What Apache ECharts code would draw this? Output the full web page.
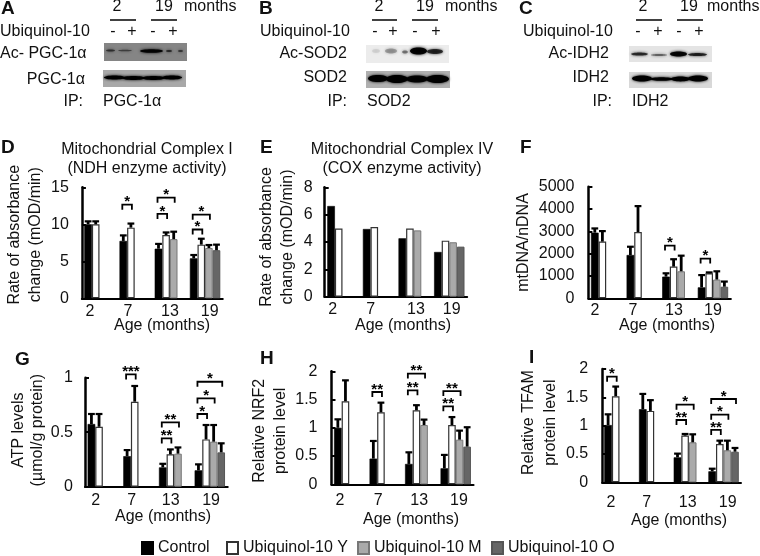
<!DOCTYPE html>
<html><head><meta charset="utf-8">
<style>html,body{margin:0;padding:0;background:#fff}#c{width:760px;height:556px}</style>
<script src="https://cdn.jsdelivr.net/npm/echarts@6/dist/echarts.min.js"></script>
</head><body><div id="c"></div>
<script>
const ages = ['2', '7', '13', '19'];
const groupNames = ['Control', 'Ubiquinol-10 Y', 'Ubiquinol-10 M', 'Ubiquinol-10 O'];

// D: Complex I
const dValues = [[10, 7.75, 6.7, 5.4], [10, 9.55, 8.55, 7.25], [null, null, 8, 6.8], [null, null, null, 6.5]];
const dTops = [[10.4, 8.5, 7.35, 5.85], [10.4, 10.1, 8.9, 8.05], [null, null, 9, 7.2], [null, null, null, 7.25]];
const dSig = [[1, 0, 1, 12.65, '*'], [2, 0, 1, 11.4, '*'], [2, 0, 2, 13.6, '*'], [3, 0, 1, 9.3, '*'], [3, 0, 2, 11.3, '*']];
// E: Complex IV
const eValues = [[6.63, 4.95, 4.27, 3.27], [4.98, 5.1, 4.98, 4.1], [null, null, 4.85, 3.98], [null, null, null, 3.66]];
const eTops = [[null, null, null, null], [null, null, null, null], [null, null, null, null], [null, null, null, null]];
const eSig = [];
// F: mtDNA/nDNA
const fValues = [[2940, 1940, 970, 490], [2540, 2970, 1420, 1120], [null, null, 1210, 840], [null, null, null, 520]];
const fTops = [[3130, 2310, 1120, 1040], [3010, 4130, 1750, 1160], [null, null, 1910, 1210], [null, null, null, 750]];
const fSig = [[2, 0, 1, 2360, '*'], [3, 0, 1, 1780, '*']];
// G: ATP
const gValues = [[0.575, 0.28, 0.177, 0.15], [0.55, 0.78, 0.297, 0.434], [null, null, 0.303, 0.413], [null, null, null, 0.315]];
const gTops = [[0.667, 0.336, 0.21, 0.205], [0.667, 0.924, 0.342, 0.566], [null, null, 0.36, 0.566], [null, null, null, 0.398]];
const gSig = [[1, 0, 1, 1.03, '***'], [2, 0, 1, 0.443, '**'], [2, 0, 2, 0.59, '**'], [3, 0, 1, 0.667, '*'], [3, 0, 2, 0.81, '*'], [3, 0, 3, 0.963, '*']];
// H: NRF2
const hValues = [[1, 0.454, 0.36, 0.283], [1.47, 1.274, 1.31, 1.05], [null, null, 1.05, 0.79], [null, null, null, 0.667]];
const hTops = [[1.15, 0.767, 0.566, 0.52], [1.84, 1.445, 1.4, 1.19], [null, null, 1.145, 0.95], [null, null, null, 1.01]];
const hSig = [[1, 0, 1, 1.634, '**'], [2, 0, 1, 1.664, '**'], [2, 0, 2, 1.96, '**'], [3, 0, 1, 1.38, '**'], [3, 0, 2, 1.65, '**']];
// I: TFAM
const iValues = [[1.01, 1.29, 0.44, 0.194], [1.52, 1.26, 0.824, 0.676], [null, null, 0.706, 0.565], [null, null, null, 0.54]];
const iTops = [[1.2, 1.56, 0.506, 0.24], [1.69, 1.45, 0.853, 0.735], [null, null, 0.847, 0.735], [null, null, null, 0.606]];
const iSig = [[0, 0, 1, 1.865, '*'], [2, 0, 1, 1.1, '**'], [2, 0, 2, 1.37, '*'], [3, 0, 1, 0.924, '**'], [3, 0, 2, 1.194, '*'], [3, 0, 3, 1.47, '*']];

const FONT = '"Liberation Sans", Arial, sans-serif';
const INK = '#111';
const BW = 7.6;
const styles = [
  {color: '#000', borderColor: '#000', borderWidth: 0.6},
  {color: '#fff', borderColor: '#333', borderWidth: 1.2},
  {color: '#aaa', borderColor: '#777', borderWidth: 1},
  {color: '#666', borderColor: '#555', borderWidth: 1}
];

const panels = [
  {v: dValues, t: dTops, s: dSig, left: 81.9, step: 35.2, top: 187.3, zero: 298.3, max: 15, interval: 5,
   name: 'Rate of absorbance\nchange (mOD/min)', nameGap: 36, nameShift: 8, lh: 21, ageX: 162, ageY: 326, labMargin: 5, yMargin: 13, dx: [-9.5, -6.7, 0, 4.6]},
  {v: eValues, t: eTops, s: eSig, left: 324.7, step: 35.6, top: 187.3, zero: 296.7, max: 8, interval: 2,
   name: 'Rate of absorbance\nchange (mOD/min)', nameGap: 27, nameShift: 5, lh: 21, ageX: 403, ageY: 326, labMargin: 5, yMargin: 12, dx: [-9.8, -7.4, 2.3, 2.4]},
  {v: fValues, t: fTops, s: fSig, left: 588.4, step: 35.6, top: 186.7, zero: 298.3, max: 5000, interval: 1000,
   name: 'mtDNA/nDNA', nameGap: 54, nameShift: 0, lh: 21, ageX: 667, ageY: 326, labMargin: 4, yMargin: 14, dx: [-11.2, -8.8, -3.4, 0]},
  {v: gValues, t: gTops, s: gSig, left: 85, step: 35.67, top: 377.7, zero: 486.7, max: 1, interval: 0.5,
   name: 'ATP levels\n(µmol/g protein)', nameGap: 35, nameShift: 2, lh: 19, ageX: 163, ageY: 517, labMargin: 6, yMargin: 12, dx: [-7.1, -6.8, -3.5, 1.2]},
  {v: hValues, t: hTops, s: hSig, left: 331.5, step: 35.5, top: 371.3, zero: 484.3, max: 2, interval: 0.5,
   name: 'Relative NRF2\nprotein level', nameGap: 29, nameShift: -3, lh: 21, ageX: 411, ageY: 520, labMargin: 8, yMargin: 14, dx: [-9.25, -6.45, -1, 3.25]},
  {v: iValues, t: iTops, s: iSig, left: 602.15, step: 34.7, top: 369, zero: 482.3, max: 2, interval: 0.5,
   name: 'Relative TFAM\nprotein level', nameGap: 39, nameShift: 3, lh: 22, ageX: 679, ageY: 521, labMargin: 12, yMargin: 14, dx: [-8.5, -7.5, -1.2, 4.1]}
];

const grid = [], xAxis = [], yAxis = [], series = [];
panels.forEach((p, pi) => {
  grid.push({left: p.left, top: p.top, width: p.step * 4, height: p.zero - p.top, containLabel: false});
  const rich = {};
  p.dx.forEach((d, i) => {
    rich['c' + i] = {fontFamily: FONT, fontSize: 16, color: INK,
      padding: d < 0 ? [0, -2 * d, 0, 0] : [0, 0, 0, 2 * d]};
  });
  xAxis.push({type: 'category', gridIndex: pi, data: ages,
    axisLine: {lineStyle: {color: '#000', width: 2.2}}, axisTick: {show: false},
    axisLabel: {margin: p.labMargin, interval: 0, formatter: (v, i) => `{c${i}|${v}}`, rich}});
  yAxis.push({type: 'value', gridIndex: pi, min: 0, max: p.max, interval: p.interval,
    splitLine: {show: false},
    axisLine: {show: true, lineStyle: {color: '#000', width: 2.5}},
    axisTick: {show: true, inside: true, length: 4, lineStyle: {color: '#000', width: 2}},
    axisLabel: {margin: p.yMargin, fontFamily: FONT, fontSize: 16, color: INK, formatter: v => String(v)},
    name: p.name, nameLocation: 'middle', nameGap: p.nameGap, nameRotate: 90,
    nameTextStyle: {fontFamily: FONT, fontSize: 16, color: INK, lineHeight: p.lh,
      padding: p.nameShift > 0 ? [0, 0, 0, 2 * p.nameShift] : [0, -2 * p.nameShift, 0, 0]}});
  groupNames.forEach((name, gi) => {
    series.push({type: 'bar', name, xAxisIndex: pi, yAxisIndex: pi, barWidth: BW, barGap: 0,
      data: p.v[gi], itemStyle: styles[gi], z: 2});
  });
  // error bars, one-sided
  const errRows = [];
  p.t.forEach((tops, gi) => tops.forEach((top, c) => {
    if (top != null) errRows.push([c, gi, p.v[gi][c], top]);
  }));
  series.push({type: 'custom', xAxisIndex: pi, yAxisIndex: pi, z: 3, silent: true, clip: false,
    encode: {x: 0, y: [2, 3]}, data: errRows,
    renderItem: (params, api) => {
      const off = (api.value(1) - 1.5) * BW;
      const a = api.coord([api.value(0), api.value(2)]);
      const b = api.coord([api.value(0), api.value(3)]);
      const x = a[0] + off;
      return {type: 'group', children: [
        {type: 'line', shape: {x1: x, y1: a[1], x2: x, y2: b[1]}, style: {stroke: '#000', lineWidth: 2.8}},
        {type: 'line', shape: {x1: x - 3.4, y1: b[1], x2: x + 3.4, y2: b[1]}, style: {stroke: '#000', lineWidth: 2.2}}
      ]};
    }});
  // significance brackets
  series.push({type: 'custom', xAxisIndex: pi, yAxisIndex: pi, z: 4, silent: true, clip: false,
    encode: {x: 0, y: 3}, data: p.s.map(r => r.slice(0, 4)),
    renderItem: (params, api) => {
      const c = api.coord([api.value(0), api.value(3)]);
      const x1 = c[0] + (api.value(1) - 1.5) * BW - 1;
      const x2 = c[0] + (api.value(2) - 1.5) * BW + 1;
      const y = c[1];
      return {type: 'group', children: [
        {type: 'polyline', shape: {points: [[x1, y + 5], [x1, y], [x2, y], [x2, y + 5]]},
         style: {stroke: '#000', fill: 'none', lineWidth: 1.8}},
        {type: 'text', style: {x: (x1 + x2) / 2, y: y - 2.5, text: p.s[params.dataIndex][4],
          font: 'bold 15px ' + FONT, fill: '#000', align: 'center', verticalAlign: 'middle'}}
      ]};
    }});
});

// western blot strips and their labels (image panels of the figure)
const graphic = [];
function txt(text, x, y, align, font) {
  graphic.push({type: 'text', silent: true, style: {x, y, text, font: font || ('16px ' + FONT), fill: INK,
    align: align || 'left', verticalAlign: 'middle', textAlign: align || 'left', textVerticalAlign: 'middle'}});
}
function rule(x1, x2, y) {
  graphic.push({type: 'line', silent: true, shape: {x1, y1: y, x2, y2: y}, style: {stroke: '#111', lineWidth: 1.6}});
}
function blot(x, y, w, h, bg, bands) {
  graphic.push({type: 'rect', silent: true, shape: {x, y, width: w, height: h}, style: {fill: bg}});
  bands.forEach(b => graphic.push({type: 'ellipse', silent: true,
    shape: {cx: (b[0] + b[1]) / 2, cy: b[2], rx: (b[1] - b[0]) / 2, ry: b[3]},
    style: {fill: '#000', opacity: b[4], shadowBlur: 3, shadowColor: '#000'}}));
}
const BOLD = 'bold 19px ' + FONT;
[['A', 1, 9], ['B', 259, 9], ['C', 519, 9], ['D', 1, 148], ['E', 260, 148], ['F', 520, 148], ['G', 15, 360], ['H', 260, 359], ['I', 529, 358]]
  .forEach(l => txt(l[0], l[1], l[2], 'left', BOLD));

panels.forEach(p => txt('Age (months)', p.ageX, p.ageY, 'center'));

function header(c2, r2, c19, r19, months, signs, uniX) {
  txt('2', c2, 7, 'center'); txt('19', c19, 7, 'center'); txt('months', months, 7);
  rule(r2[0], r2[1], 20); rule(r19[0], r19[1], 20);
  txt('Ubiquinol-10', uniX, 32);
  signs.forEach((x, i) => txt(i % 2 ? '+' : '-', x, 32, 'center'));
}
header(117, [110, 136], 164, [151, 177], 184, [113, 132, 153, 173], 0);
header(379, [372, 397], 425, [412, 438], 445, [375, 393, 415, 436], 260);
header(643, [636, 662], 689, [677, 703], 707, [638, 658, 679, 699], 523);

txt('Ac- PGC-1α', 0, 54); txt('PGC-1α', 85, 80, 'right'); txt('IP:', 83, 102, 'right'); txt('PGC-1α', 103, 102);
txt('Ac-SOD2', 347, 54, 'right'); txt('SOD2', 347, 78, 'right'); txt('IP:', 347, 102, 'right'); txt('SOD2', 367, 102);
txt('Ac-IDH2', 609, 54, 'right'); txt('IDH2', 609, 78, 'right'); txt('IP:', 612, 102, 'right'); txt('IDH2', 632, 102);

blot(104, 43, 83, 18, '#858585', [[106, 115, 50.5, 1, .55], [118, 132, 50.5, .8, .45], [140, 163, 51, 1.8, .95], [166, 172, 51, 1, .6], [178, 183, 51, 1, .5]]);
blot(103, 70, 83, 17, '#a8a8a8', [[104, 125, 77.5, 2, 1], [122, 145, 78, 2, 1], [142, 165, 78, 2, 1], [162, 182, 77.5, 2, 1]]);
blot(366, 45, 83, 18, '#ececec', [[372, 380, 51, 2, .08], [385, 397, 51, 2.5, .25], [402, 408, 52, 1.5, .4], [410, 427, 51, 3.5, .95], [427, 443, 51.5, 2.5, .7]]);
blot(366, 71, 84, 17, '#b0b0b0', [[368, 388, 78.5, 3.5, 1], [386, 408, 79, 4, 1], [406, 428, 79, 3.5, .95], [426, 449, 79, 4, 1]]);
blot(629, 46, 83, 16, '#e4e4e4', [[631, 648, 54, 1.6, .7], [651, 667, 55, 1, .45], [670, 687, 54, 2.5, .95], [688, 707, 54.5, 1.6, .75]]);
blot(629, 72, 83, 16, '#d8d8d8', [[632, 652, 78.5, 3, 1], [650, 673, 79, 1.8, 1], [671, 690, 79, 2.4, 1], [688, 708, 78.5, 3, 1]]);

const title = [
  {text: 'Mitochondrial Complex I\n(NDH enzyme activity)', left: 142, top: 135, textAlign: 'center',
   textStyle: {fontFamily: FONT, fontSize: 16, fontWeight: 'normal', color: INK, lineHeight: 19}},
  {text: 'Mitochondrial Complex IV\n(COX enzyme activity)', left: 397, top: 135, textAlign: 'center',
   textStyle: {fontFamily: FONT, fontSize: 16, fontWeight: 'normal', color: INK, lineHeight: 19}}
];

const legendLefts = [136, 221, 352, 486];
const legend = groupNames.map((name, i) => ({
  data: [{name, icon: 'rect'}], left: legendLefts[i], top: 535, itemWidth: 11, itemHeight: 12,
  selectedMode: false, textStyle: {fontFamily: FONT, fontSize: 16, color: INK}
}));

const chart = echarts.init(document.getElementById('c'), null, {renderer: 'canvas'});
chart.setOption({animation: false, backgroundColor: '#fff', title, legend, grid, xAxis, yAxis, series, graphic});
</script>
</body></html>
